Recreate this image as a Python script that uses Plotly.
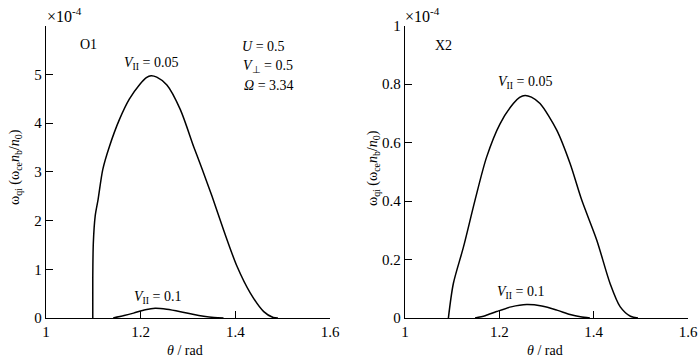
import plotly.graph_objects as go

# Left panel (O1), values in units of 1e-4
o1_v005_theta = [1.0988, 1.0988, 1.100, 1.104, 1.110, 1.120, 1.134, 1.155, 1.176, 1.198, 1.212, 1.222, 1.234, 1.2554, 1.2836, 1.3118, 1.3300, 1.3506, 1.375, 1.4035, 1.4317, 1.460, 1.480, 1.490]
o1_v005_val   = [0.0,    0.8,    1.54,  2.10,  2.43,  3.05,  3.52,  4.07,  4.49,  4.79,  4.93,  4.97,  4.94,  4.78,   4.28,   3.52,   3.05,   2.50,   1.81,  1.06,   0.51,   0.13,  0.01,  0.0]
o1_v01_theta = [1.142, 1.165, 1.185, 1.21, 1.2307, 1.255, 1.284, 1.310, 1.333, 1.355, 1.375]
o1_v01_val   = [0.0,   0.05,  0.10,  0.17, 0.20,   0.18,  0.13,  0.075, 0.035, 0.01,  0.0]

# Right panel (X2), values in units of 1e-4
x2_v005_theta = [1.092, 1.1025, 1.124, 1.1485, 1.173, 1.2015, 1.2297, 1.243, 1.2545, 1.268, 1.2863, 1.3217, 1.350, 1.3747, 1.4066, 1.4348, 1.456, 1.478, 1.494]
x2_v005_val   = [0.0,   0.118,  0.243, 0.403,  0.55,  0.664,  0.733,  0.754, 0.761,  0.755, 0.733,  0.642,  0.528, 0.403,  0.266,  0.118,  0.039, 0.006, 0.0]
x2_v01_theta = [1.1485, 1.17, 1.194, 1.225, 1.258, 1.29, 1.322, 1.35, 1.372, 1.392]
x2_v01_val   = [0.0,    0.008, 0.022, 0.038, 0.046, 0.041, 0.027, 0.012, 0.004, 0.0]

x_ticks = [1, 1.2, 1.4, 1.6]
x_ticktext = ["1", "1.2", "1.4", "1.6"]
o1_yticks = [0, 1, 2, 3, 4, 5]
x2_yticks = [0, 0.2, 0.4, 0.6, 0.8, 1]
x2_yticktext = ["0", "0.2", "0.4", "0.6", "0.8", "1"]

FONT = "Liberation Serif, Times New Roman, serif"
W, H = 700, 359

def PX(x):
    return x / W

def PY(y):
    return 1 - y / H

fig = go.Figure()
line = dict(color="black", width=1.5, shape="spline", smoothing=0.8)
fig.add_trace(go.Scatter(x=o1_v005_theta, y=o1_v005_val, mode="lines", line=line, xaxis="x", yaxis="y"))
fig.add_trace(go.Scatter(x=o1_v01_theta, y=o1_v01_val, mode="lines", line=line, xaxis="x", yaxis="y"))
fig.add_trace(go.Scatter(x=x2_v005_theta, y=x2_v005_val, mode="lines", line=line, xaxis="x2", yaxis="y2"))
fig.add_trace(go.Scatter(x=x2_v01_theta, y=x2_v01_val, mode="lines", line=line, xaxis="x2", yaxis="y2"))

axcommon = dict(showgrid=False, zeroline=False, showline=True, linecolor="black", linewidth=1.3,
                ticks="inside", ticklen=7, tickcolor="black", tickwidth=1.2, automargin=False,
                tickfont=dict(family=FONT, size=15, color="black"))

fig.update_layout(
    template="none",
    width=W, height=H, margin=dict(l=0, r=0, t=0, b=0, autoexpand=False),
    paper_bgcolor="white", plot_bgcolor="white", showlegend=False,
    xaxis=dict(domain=[PX(46), PX(330)], range=[1, 1.6], tickvals=x_ticks, ticktext=x_ticktext, anchor="y", **axcommon),
    yaxis=dict(domain=[PY(318), PY(25.5)], range=[0, 6], tickvals=o1_yticks, anchor="x", **axcommon),
    xaxis2=dict(domain=[PX(405), PX(688)], range=[1, 1.6], tickvals=x_ticks, ticktext=x_ticktext, anchor="y2", **axcommon),
    yaxis2=dict(domain=[PY(318), PY(25.5)], range=[0, 1], tickvals=x2_yticks, ticktext=x2_yticktext, anchor="x2", **axcommon),
)

def ann(x, y, text, size=14, angle=0, xanchor="center"):
    fig.add_annotation(x=PX(x), y=PY(y), xref="paper", yref="paper", text=text, showarrow=False,
                       font=dict(family=FONT, size=size, color="black"), textangle=angle,
                       xanchor=xanchor, yanchor="middle")

ylab = "ω<sub>qi</sub> (ω<sub>ce</sub><i>n</i><sub>b</sub>/<i>n</i><sub>0</sub>)"
vpar005 = "<i>V</i><sub>II</sub> = 0.05"
vpar01 = "<i>V</i><sub>II</sub> = 0.1"

# Left panel texts
ann(45, 15, "×10<sup>-4</sup>", 16, xanchor="left")
ann(88, 44, "O1", 14)
ann(151, 63, vpar005, 14)
ann(158, 297, vpar01, 14)
ann(240, 46, "<i>U</i> = 0.5", 14, xanchor="left")
ann(241, 66, "<i>V</i><sub>⊥</sub> = 0.5", 14, xanchor="left")
ann(242, 86, "<i>Ω</i> = 3.34", 14, xanchor="left")
ann(185, 350, "<i>θ</i> / rad", 14)
ann(15, 167, ylab, 14, angle=-90)

# Right panel texts
ann(403, 15, "×10<sup>-4</sup>", 16, xanchor="left")
ann(443, 45, "X2", 14)
ann(525, 82, vpar005, 14)
ann(521, 292, vpar01, 14)
ann(545, 350, "<i>θ</i> / rad", 14)
ann(373, 168, ylab, 14, angle=-90)

fig.write_html("out.html", config={"displayModeBar": False},
               post_script="document.body.style.margin='0';document.body.style.overflow='hidden';")
